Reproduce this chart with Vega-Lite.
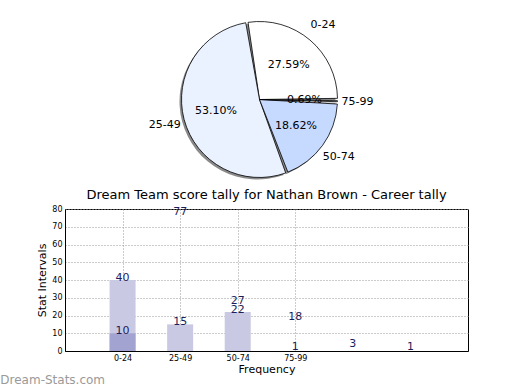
{
  "$schema": "https://vega.github.io/schema/vega-lite/v6.json",
  "padding": {"left": 0, "top": 7, "right": 5, "bottom": 0},
  "background": "white",
  "config": {"font": "DejaVu Sans", "view": {"stroke": null}},
  "resolve": {"scale": {"color": "independent", "theta": "independent"}},
  "title": {"text": "Dream-Stats.com", "orient": "bottom", "anchor": "start", "dx": -36, "color": "#9a9a9a", "fontSize": 12, "fontWeight": "normal", "offset": 0},
  "datasets": {
    "slices": [
      {"range": "0-24", "count": 40, "pct": "27.59%"},
      {"range": "25-49", "count": 77, "pct": "53.10%"},
      {"range": "50-74", "count": 27, "pct": "18.62%"},
      {"range": "75-99", "count": 1, "pct": "0.69%"}
    ],
    "bars": [
      {"range": "0-24", "series": "a", "value": 40},
      {"range": "0-24", "series": "b", "value": 10},
      {"range": "25-49", "series": "a", "value": 15},
      {"range": "50-74", "series": "a", "value": 22}
    ],
    "labels": [
      {"range": "0-24", "value": 40},
      {"range": "0-24", "value": 10},
      {"range": "25-49", "value": 77},
      {"range": "25-49", "value": 15},
      {"range": "50-74", "value": 27},
      {"range": "50-74", "value": 22},
      {"range": "75-99", "value": 18},
      {"range": "75-99", "value": 1},
      {"range": "100-124", "value": 3},
      {"range": "125-149", "value": 1}
    ]
  },
  "spacing": 0,
  "vconcat": [
    {
      "width": 403,
      "height": 181,
      "view": {"stroke": null},
      "data": {"name": "slices"},
      "encoding": {
        "theta": {"field": "count", "type": "quantitative", "stack": true, "scale": {"range": [1.5707963, -4.712389]}},
        "order": {"field": "range", "type": "ordinal", "sort": "ascending"},
        "detail": {"field": "range", "type": "nominal"}
      },
      "layer": [
        {"mark": {"type": "arc", "outerRadius": 78, "fill": "#8a8a8a", "xOffset": -9, "yOffset": 4, "padAngle": 0.03}},
        {"mark": {"type": "arc", "outerRadius": 78, "stroke": "black", "strokeWidth": 0.8, "xOffset": -7, "yOffset": 2, "padAngle": 0.03},
         "encoding": {"color": {"field": "range", "type": "nominal", "scale": {"domain": ["0-24", "25-49", "50-74", "75-99"], "range": ["#ffffff", "#eaf1ff", "#c6d9ff", "#dbe6ff"]}, "legend": null}}},
        {"mark": {"type": "text", "radius": 45, "xOffset": -7, "yOffset": 2, "fontSize": 11, "color": "black"},
         "encoding": {"text": {"field": "pct", "type": "nominal"}}},
        {"mark": {"type": "text", "radius": 98, "xOffset": -7, "yOffset": 2, "fontSize": 11, "color": "black"},
         "encoding": {"text": {"field": "range", "type": "nominal"}}}
      ]
    },
    {
      "width": 403,
      "height": 142,
      "view": {"stroke": "black", "strokeWidth": 1},
      "title": {"text": "Dream Team score tally for Nathan Brown - Career tally", "fontSize": 13, "fontWeight": "normal", "offset": 3, "color": "black"},
      "encoding": {
        "x": {"field": "range", "type": "ordinal", "title": "Frequency",
              "scale": {"type": "point", "padding": 1, "domain": ["0-24", "25-49", "50-74", "75-99", "100-124", "125-149"]},
              "axis": {"values": ["0-24", "25-49", "50-74", "75-99"], "labelAngle": 0, "labelFontSize": 8, "labelPadding": 3, "ticks": false, "grid": true, "gridDash": [1, 2], "gridColor": "#999999", "domainColor": "black", "titleFontSize": 11, "titleFontWeight": "normal", "titlePadding": 1, "labelColor": "black", "titleColor": "black"}},
        "y": {"field": "value", "type": "quantitative", "stack": null, "title": "Stat Intervals",
              "scale": {"domain": [0, 80], "nice": false},
              "axis": {"values": [0, 10, 20, 30, 40, 50, 60, 70, 80], "labelFontSize": 8, "labelPadding": 3, "ticks": false, "grid": true, "gridDash": [1, 2], "gridColor": "#999999", "domainColor": "black", "titleFontSize": 11, "titleFontWeight": "normal", "titlePadding": 4, "labelColor": "black", "titleColor": "black"}}
      },
      "layer": [
        {"data": {"name": "bars"},
         "mark": {"type": "bar", "width": 26},
         "encoding": {
           "color": {"field": "series", "type": "nominal", "scale": {"domain": ["a", "b"], "range": ["#c9c9e3", "#a3a3d1"]}, "legend": null}
         }},
        {"data": {"name": "labels"},
         "mark": {"type": "text", "baseline": "middle", "dy": -2, "fontSize": 11, "color": "#1d1d5c"},
         "encoding": {
           "text": {"field": "value", "type": "quantitative"}
         }}
      ]
    }
  ]
}
